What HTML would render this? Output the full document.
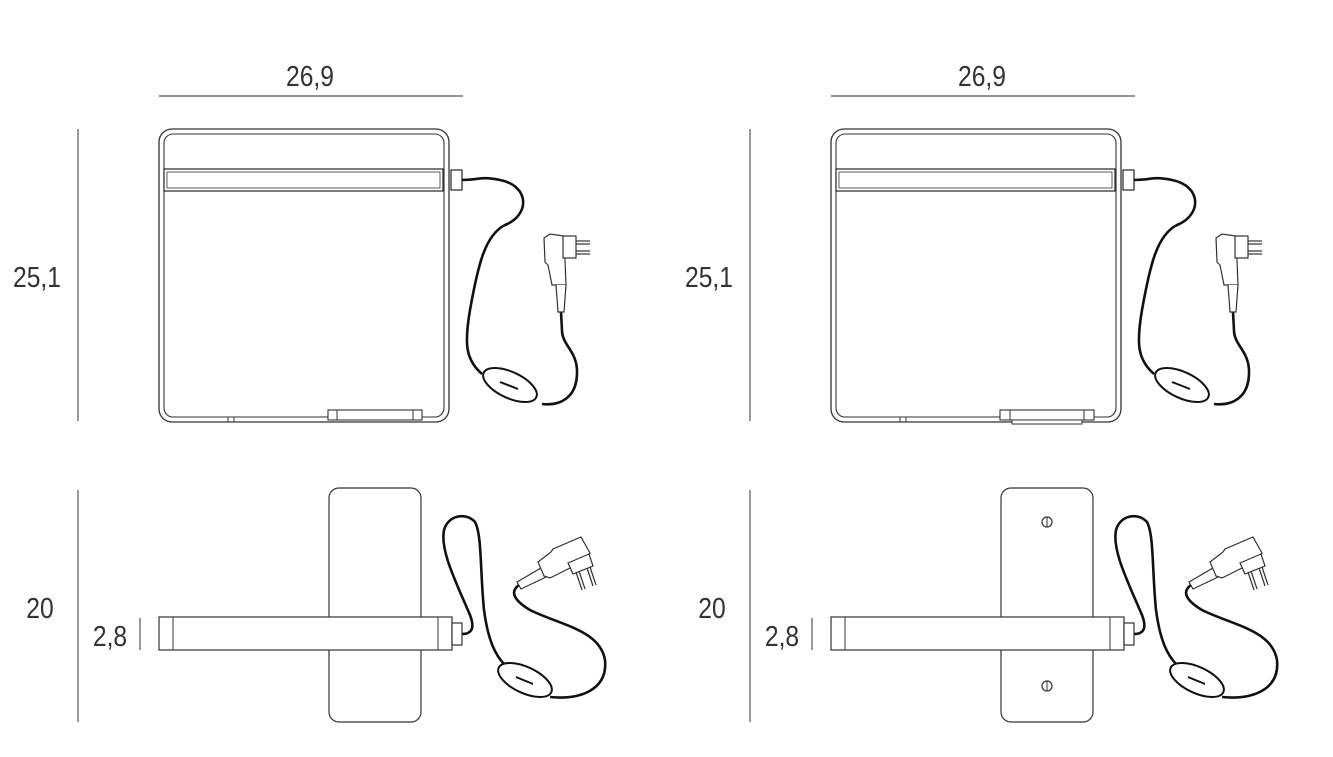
<!DOCTYPE html>
<html><head><meta charset="utf-8"><style>
html,body{margin:0;padding:0;background:#fff;width:1333px;height:757px;overflow:hidden}
svg{display:block}
text{font-family:"Liberation Sans",sans-serif;font-size:29px;fill:#333}
</style></head><body>
<svg width="1333" height="757" viewBox="0 0 1333 757" xmlns="http://www.w3.org/2000/svg">
<defs>
<g id="plug" fill="#fff" stroke="#333" stroke-width="1.2">
  <path d="M544,238 L550,234 L564,236 L566,285 L552,285 L548,265 L545,262 Z"/>
  <rect x="563" y="236" width="13" height="22"/>
  <line x1="576" y1="241" x2="590" y2="241"/><line x1="576" y1="244" x2="590" y2="244"/>
  <line x1="576" y1="251" x2="590" y2="251"/><line x1="576" y1="254" x2="590" y2="254"/>
  <path d="M556,285 L558,312 L564,312 L566,285"/>
</g>
<g id="bplug" fill="#fff" stroke="#333" stroke-width="1.2">
  <path d="M517,582 L541,568 L546,577 L521,589 Z"/>
  <path d="M538,562 L551,552 L553,549 L581,537 L590,553 L588,559 L550,578 L544,576 Z"/>
  <path d="M568,563 L589,554 L593,566 L573,574 Z"/>
  <line x1="576" y1="572" x2="582" y2="590"/><line x1="579" y1="571" x2="585" y2="589"/>
  <line x1="587" y1="568" x2="593" y2="586"/><line x1="590" y1="567" x2="596" y2="585"/>
</g>
<g id="top">
  <rect x="159" y="129" width="290" height="293" rx="13" fill="none" stroke="#333" stroke-width="1.3"/>
  <rect x="164" y="134" width="280" height="283" rx="9" fill="none" stroke="#333" stroke-width="1.1"/>
  <rect x="164" y="169" width="279" height="22" fill="#fff" stroke="#333" stroke-width="1.3"/>
  <rect x="167" y="172" width="273" height="16" fill="none" stroke="#333" stroke-width="0.8"/>
  <rect x="451" y="170" width="11" height="20" fill="#fff" stroke="#333" stroke-width="1.3"/>
  <line x1="228" y1="417" x2="228" y2="422" stroke="#333"/><line x1="234" y1="417" x2="234" y2="422" stroke="#333"/>
  <path d="M462,180 C480,180 480,176 500,180 C530,186 530,215 505,225 C485,235 478,265 470,310 C464,345 466,360 482,374" fill="none" stroke="#111" stroke-width="2.6"/>
  <path d="M542,404 C560,406 578,398 577,370 C576,350 562,345 562,330 L561,312" fill="none" stroke="#111" stroke-width="2.6"/>
  <ellipse cx="510" cy="385" rx="29" ry="13" transform="rotate(25 510 385)" fill="#fff" stroke="#111" stroke-width="2"/>
  <line x1="500" y1="382" x2="518" y2="389" stroke="#111" stroke-width="2"/>
  <use href="#plug"/>
  <line x1="159" y1="96" x2="463" y2="96" stroke="#555" stroke-width="1.2"/>
  <line x1="78" y1="129" x2="78" y2="421" stroke="#555" stroke-width="1.2"/>
  <text x="310" y="86" text-anchor="middle" transform="translate(310 0) scale(0.85 1) translate(-310 0)">26,9</text>
  <text x="37" y="287" text-anchor="middle" transform="translate(37 0) scale(0.85 1) translate(-37 0)">25,1</text>
</g>
<g id="bot">
  <rect x="329" y="488" width="92" height="234" rx="10" fill="#fff" stroke="#333" stroke-width="1.2"/>
  <rect x="159" y="617" width="293" height="33" fill="#fff" stroke="#333" stroke-width="1.2"/>
  <line x1="173" y1="617" x2="173" y2="650" stroke="#333"/><line x1="438" y1="617" x2="438" y2="650" stroke="#333"/>
  <rect x="452" y="623" width="10" height="22" fill="#fff" stroke="#333" stroke-width="1.2"/>
  <path d="M462,634 C472,634 475,628 470,615 C455,580 440,550 444,530 C448,515 466,512 475,522 C482,535 480,570 484,610 C488,640 495,655 505,665" fill="none" stroke="#111" stroke-width="2.6"/>
  <path d="M550,697 C580,700 608,690 605,660 C600,630 560,625 530,610 C510,598 512,590 519,585" fill="none" stroke="#111" stroke-width="2.6"/>
  <ellipse cx="525" cy="680" rx="29" ry="13" transform="rotate(25 525 680)" fill="#fff" stroke="#111" stroke-width="2"/>
  <line x1="516" y1="677" x2="533" y2="684" stroke="#111" stroke-width="2"/>
  <use href="#bplug"/>
  <line x1="78" y1="490" x2="78" y2="722" stroke="#555" stroke-width="1.2"/>
  <line x1="140" y1="618" x2="140" y2="650" stroke="#555" stroke-width="1.2"/>
  <text x="40" y="618" text-anchor="middle" transform="translate(40 0) scale(0.85 1) translate(-40 0)">20</text>
  <text x="110" y="646" text-anchor="middle" transform="translate(110 0) scale(0.85 1) translate(-110 0)">2,8</text>
</g>
</defs>
<use href="#top"/>
<rect x="328" y="410" width="94" height="10" fill="#fff" stroke="#333" stroke-width="1.1"/>
<line x1="337" y1="410" x2="337" y2="420" stroke="#333"/><line x1="413" y1="410" x2="413" y2="420" stroke="#333"/>
<use href="#bot"/>
<g transform="translate(672 0)">
  <use href="#top"/>
  <rect x="328" y="410" width="94" height="10" fill="#fff" stroke="#333" stroke-width="1.1"/>
  <rect x="340" y="420" width="70" height="4" fill="#fff" stroke="#333" stroke-width="1"/>
  <line x1="338" y1="410" x2="338" y2="420" stroke="#333"/><line x1="412" y1="410" x2="412" y2="420" stroke="#333"/>
  <use href="#bot"/>
  <circle cx="375" cy="522" r="5" fill="#fff" stroke="#333" stroke-width="1.2"/>
  <line x1="375" y1="517" x2="375" y2="527" stroke="#333"/>
  <circle cx="375" cy="686" r="5" fill="#fff" stroke="#333" stroke-width="1.2"/>
  <line x1="375" y1="681" x2="375" y2="691" stroke="#333"/>
</g>
</svg>
</body></html>
